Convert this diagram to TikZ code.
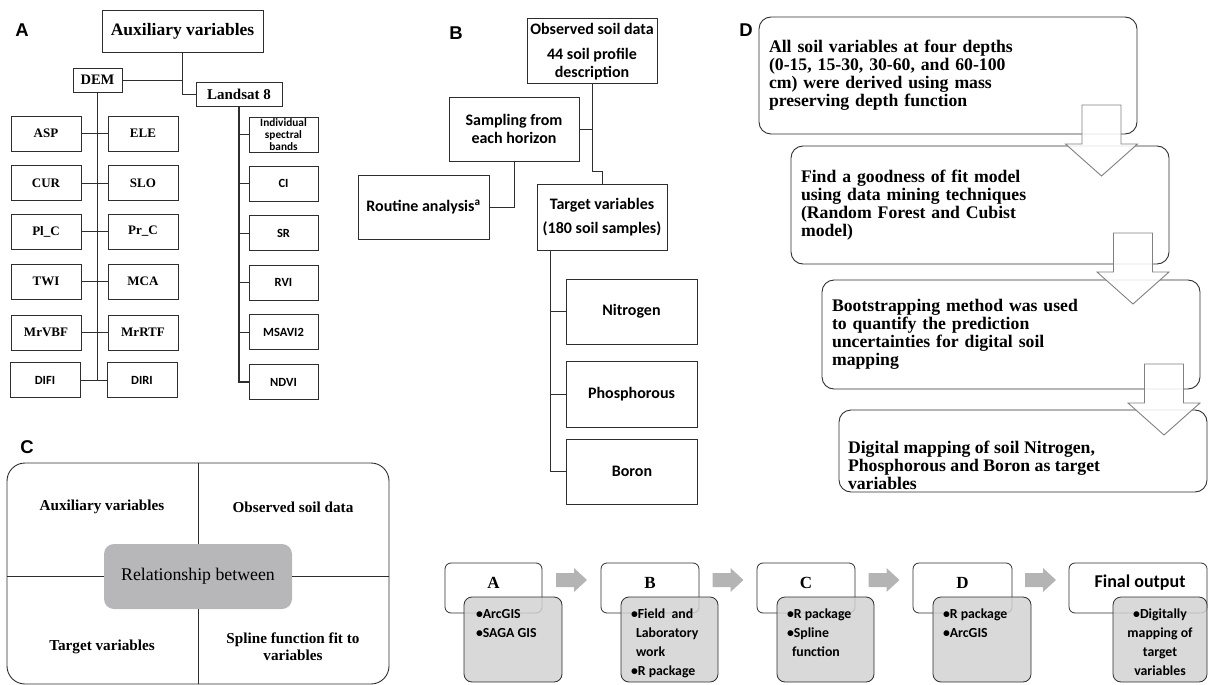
\documentclass[tikz,border=0pt]{standalone}
\usepackage{fontspec}
\setmainfont{Liberation Serif}
\newfontfamily\calib{Carlito}
\newfontfamily\arialf{Liberation Sans}
\usetikzlibrary{calc}
\newcommand\fsz[2]{\fontsize{#1}{#2}\selectfont}
\definecolor{lineblk}{HTML}{2E2E2E}
\definecolor{arrgray}{HTML}{B4B4B4}
\definecolor{boxgray}{HTML}{D2D2D2}
\definecolor{relgray}{HTML}{B7B7BA}
\definecolor{outgray}{HTML}{808080}
\begin{document}
\begin{tikzpicture}[x=1pt,y=-1pt,
  every node/.style={inner sep=0pt, outer sep=0pt},
  sqbox/.style={draw=lineblk, line width=0.9pt, align=center},
  conn/.style={draw=lineblk, line width=0.9pt},
  trunk/.style={draw=lineblk, line width=1.2pt},
  abox/.style={sqbox, minimum width=70, minimum height=35, font=\bfseries\fsz{13}{14}},
  asbox/.style={sqbox, minimum width=70, minimum height=35, font=\calib\bfseries\fsz{12.5}{13}},
  lbox/.style={sqbox, minimum width=69, minimum height=35, font=\calib\bfseries\fsz{12.5}{13}},
  bbox/.style={sqbox, minimum width=130, minimum height=65, font=\calib\bfseries\fsz{16}{18.5}},
  panlab/.style={font=\arialf\bfseries\fsz{18.5}{18.5}},
  dbox/.style={draw=lineblk, line width=0.9pt, rounded corners=12, minimum width=378, align=left, text width=358, inner xsep=10, inner ysep=0, font=\bfseries\fsz{17.7}{18}},
  dtext/.style={align=left, font=\bfseries\fsz{17.7}{18}},
  darrow/.style={draw=outgray, line width=0.9pt, fill=white, fill opacity=0.85},
  ctext/.style={align=center, font=\bfseries\fsz{15.2}{17}},
  wbox/.style={draw=lineblk, line width=0.8pt, rounded corners=6, minimum height=50},
  wlab/.style={font=\bfseries\fsz{17}{17}},
  gbox/.style={draw=lineblk, line width=0.8pt, rounded corners=8, fill=boxgray, fill opacity=0.85, minimum height=85},
  gtext/.style={align=left, anchor=north west, font=\calib\bfseries\fsz{13.8}{19}},
  garr/.pic={\fill[arrgray] (-15.5,-7) -- (2.5,-7) -- (2.5,-12) -- (15.5,0) -- (2.5,12) -- (2.5,7) -- (-15.5,7) -- cycle;},
  darr/.pic={\draw[darrow] (-19.5,0) -- (19.5,0) -- (19.5,39) -- (36,39) -- (0,71) -- (-36,39) -- (-19.5,39) -- cycle;}
]
\useasboundingbox (0,0) rectangle (1208,685);

% ---------------- Panel A ----------------
\node[panlab] (labA) at (22,30) {A};
\node[sqbox, minimum width=161, minimum height=42, font=\bfseries\fsz{17.5}{20}] (aux) at (182.5,31) {Auxiliary variables};
\node[sqbox, minimum width=49, minimum height=24, font=\bfseries\fsz{14.5}{16}] (dem) at (97.5,80) {DEM};
\node[sqbox, minimum width=86, minimum height=24, font=\bfseries\fsz{15}{16}] (land) at (239,94) {Landsat 8};

\node[abox] (asp) at (46,133.5) {ASP};
\node[abox] (ele) at (143,133.5) {ELE};
\node[abox] (cur) at (46,183) {CUR};
\node[abox] (slo) at (143,183) {SLO};
\node[abox] (plc) at (46,231.5) {Pl\_C};
\node[abox] (prc) at (143,231.5) {Pr\_C};
\node[abox] (twi) at (46,281.5) {TWI};
\node[abox] (mca) at (143,281.5) {MCA};
\node[abox] (mrvbf) at (46,332.5) {MrVBF};
\node[abox] (mrrtf) at (143,332.5) {MrRTF};
\node[asbox] (difi) at (45,380) {DIFI};
\node[asbox] (diri) at (142,380) {DIRI};

\node[lbox, font=\calib\bfseries\fsz{11.3}{11.7}] (isb) at (283.5,134.5) {Individual\\spectral\\bands};
\node[lbox] (ci) at (283.5,183.5) {CI};
\node[lbox] (sr) at (283.5,233) {SR};
\node[lbox] (rvi) at (283.5,282.5) {RVI};
\node[lbox] (msavi) at (283.5,332) {MSAVI2};
\node[lbox] (ndvi) at (283.5,382) {NDVI};

\draw[conn] (aux.south) |- (land.west);
\draw[conn] (dem.east) -- (dem.east -| aux.south);
\draw[trunk] (dem.south) -- (dem.south |- difi.east);
\foreach \l/\r in {asp/ele,cur/slo,plc/prc,twi/mca,mrvbf/mrrtf,difi/diri}
  \draw[conn] (\l.east) -- (\r.west);
\draw[trunk] (land.south) |- (ndvi.west);
\foreach \b in {isb,ci,sr,rvi,msavi}
  \draw[conn] (\b.west) -- (\b.west -| land.south);

% ---------------- Panel B ----------------
\node[panlab] (labB) at (456,33) {B};
\node[bbox, text depth=-3pt] (obs) at (592,50.5) {Observed soil data\\[6pt]44 soil profile\\description};
\node[bbox, minimum height=64] (samp) at (514,129) {Sampling from\\each horizon};
\node[bbox, minimum width=131, minimum height=64] (rout) at (423.5,207) {Routine analysis\textsuperscript{a}};
\node[bbox, minimum height=66] (targ) at (602,217) {Target variables\\[6pt](180 soil samples)};
\node[bbox, minimum width=131] (nitro) at (631.5,311.5) {Nitrogen};
\node[bbox, minimum width=131, minimum height=66] (phos) at (631.5,394) {Phosphorous};
\node[bbox, minimum width=131] (boron) at (632,471.5) {Boron};

\coordinate (bj) at (592,171);
\coordinate (tt) at ($(targ.south west)+(13,0)$);
\draw[conn] (obs.south) -- (bj) -| (targ.north);
\draw[conn] (samp.east) -- (samp.east -| obs.south);
\draw[conn] (samp.south) |- (rout.east);
\draw[conn] (tt) |- (boron.west);
\draw[conn] (nitro.west) -- (nitro.west -| tt);
\draw[conn] (phos.west) -- (phos.west -| tt);

% ---------------- Panel D ----------------
\node[panlab] (labD) at (746,30) {D};
\node[dbox, minimum height=117] (d1) at (948,75.5) {All soil variables at four depths\\(0-15, 15-30, 30-60, and 60-100\\cm) were derived using mass\\preserving depth function};
\node[dbox, minimum height=118] (d2) at (980,205) {Find a goodness of fit model\\using data mining techniques\\(Random Forest and Cubist\\model)};
\node[dbox, minimum height=109] (d3) at (1011,334.5) {Bootstrapping method was used\\to quantify the prediction\\uncertainties for digital soil\\mapping};
\node[dbox, minimum width=368, text width=348, minimum height=82] (d4) at (1023,451) {};
\node[dtext, anchor=west] (d4t) at ($(d4.west)+(9,14)$) {Digital mapping of soil Nitrogen,\\Phosphorous and Boron as target\\variables};

\pic at ($(d1.south east)+(-35.5,-29)$) {darr};
\pic at ($(d2.south east)+(-36,-31)$) {darr};
\pic at ($(d3.south east)+(-36,-25)$) {darr};

% ---------------- Panel C ----------------
\node[panlab] (labC) at (27,447) {C};
\node[draw=lineblk, line width=0.9pt, rounded corners=18, minimum width=382, minimum height=221] (cbox) at (198,573.5) {};
\node[fill=relgray, rounded corners=10, minimum width=188, minimum height=65, font=\fsz{17.8}{20}] (rel) at (198,576.5) {Relationship between};
\draw[conn] (cbox.north) -- (rel.north);
\draw[conn] (rel.south) -- (cbox.south);
\draw[conn] (cbox.west |- rel.west) -- (rel.west);
\draw[conn] (rel.east) -- (cbox.east |- rel.east);
\node[ctext] (cq1) at (102,507) {Auxiliary variables};
\node[ctext] (cq2) at (293,507) {Observed soil data};
\node[ctext] (cq3) at (102,647) {Target variables};
\node[ctext] (cq4) at (293,647) {Spline function fit to\\variables};

% ---------------- Bottom flow ----------------
\node[wbox, minimum width=97] (wa) at (493.5,588) {};
\node[wbox, minimum width=98] (wb) at (650,588) {};
\node[wbox, minimum width=98] (wc) at (806,588) {};
\node[wbox, minimum width=99] (wd) at (962.5,588) {};
\node[wbox, minimum width=138] (wf) at (1138,588) {};
\node[wlab] (la) at (493.5,583) {A};
\node[wlab] (lb) at (650,583) {B};
\node[wlab] (lc) at (806,583) {C};
\node[wlab] (ld) at (962.5,583) {D};
\node[font=\calib\bfseries\fsz{18}{18}] (lf) at (1140,583) {Final output};

\node[gbox, minimum width=98] (ga) at (513,639.5) {};
\node[gbox, minimum width=97] (gb) at (669.5,639.5) {};
\node[gbox, minimum width=97] (gc) at (825.5,639.5) {};
\node[gbox, minimum width=98] (gd) at (982,639.5) {};
\node[gbox, minimum width=94] (gf) at (1160,639.5) {};

\node[gtext] (ta) at ($(ga.north west)+(12,12)$) {•ArcGIS\\•SAGA GIS};
\node[gtext] (tb) at ($(gb.north west)+(10,12)$) {•Field~ and\\\hspace*{5pt}Laboratory\\\hspace*{5pt}work\\•R package};
\node[gtext] (tc) at ($(gc.north west)+(10,12)$) {•R package\\•Spline\\\hspace*{5pt}function};
\node[gtext] (td) at ($(gd.north west)+(10,12)$) {•R package\\•ArcGIS};
\node[gtext, anchor=north, align=center] (tf) at ($(gf.north)+(0,12)$) {•Digitally\\mapping of\\target\\variables};

\pic at ($(wa.east)!0.5!(wb.west)+(0,-8)$) {garr};
\pic at ($(wb.east)!0.5!(wc.west)+(0,-8)$) {garr};
\pic at ($(wc.east)!0.5!(wd.west)+(0,-8)$) {garr};
\pic at ($(wd.east)!0.5!(wf.west)+(0,-8)$) {garr};
\end{tikzpicture}
\end{document}
